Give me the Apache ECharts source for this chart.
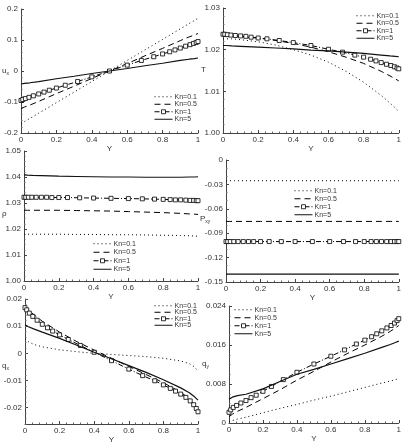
<!DOCTYPE html>
<html>
<head>
<meta charset="utf-8">
<script src="https://cdn.jsdelivr.net/npm/echarts@6/dist/echarts.min.js"></script>
<style>
html, body { margin: 0; padding: 0; background: #fff; }
#chart { width: 404px; height: 445px; }
</style>
</head>
<body>
<div id="chart"></div>
<script>
// grid points along Y
const X_LINE = [0, 0.02, 0.05, 0.1, 0.2, 0.3, 0.4, 0.5, 0.6, 0.7, 0.8, 0.9, 0.95, 0.98, 1];
const X_MARK = [0, 0.01, 0.025, 0.045, 0.07, 0.1, 0.13, 0.16, 0.2, 0.25, 0.32, 0.4, 0.5, 0.6, 0.68, 0.75, 0.8, 0.84, 0.87, 0.9, 0.93, 0.955, 0.975, 0.99, 1];
const NAMES = ['Kn=0.1', 'Kn=0.5', 'Kn=1', 'Kn=5'];

// u_x
const UX_01 = [-0.170, -0.163, -0.153, -0.136, -0.102, -0.068, -0.034, 0, 0.034, 0.068, 0.102, 0.136, 0.153, 0.163, 0.170];
const UX_05 = [-0.121, -0.116, -0.110, -0.098, -0.073, -0.049, -0.024, 0, 0.024, 0.049, 0.073, 0.098, 0.110, 0.116, 0.121];
const UX_1 = [-0.095, -0.092, -0.089, -0.085, -0.080, -0.074, -0.068, -0.062, -0.055, -0.046, -0.034, -0.019, 0, 0.019, 0.034, 0.046, 0.055, 0.062, 0.068, 0.074, 0.080, 0.085, 0.089, 0.092, 0.095];
const UX_5 = [-0.042, -0.040, -0.038, -0.034, -0.025, -0.017, -0.008, 0, 0.008, 0.017, 0.025, 0.034, 0.038, 0.040, 0.042];

// T
const T_01 = [1.0226, 1.0226, 1.0226, 1.0224, 1.0219, 1.0211, 1.0200, 1.0187, 1.0170, 1.0148, 1.0122, 1.0090, 1.0072, 1.0060, 1.0052];
const T_05 = [1.0232, 1.0232, 1.0232, 1.0231, 1.0228, 1.0222, 1.0215, 1.0206, 1.0195, 1.0182, 1.0167, 1.0148, 1.0137, 1.0130, 1.0125];
const T_1 = [1.0237, 1.0237, 1.0236, 1.0235, 1.0234, 1.0233, 1.0232, 1.0230, 1.0228, 1.0226, 1.0222, 1.0217, 1.0210, 1.0201, 1.0194, 1.0187, 1.0182, 1.0177, 1.0173, 1.0169, 1.0165, 1.0162, 1.0159, 1.0156, 1.0154];
const T_5 = [1.0210, 1.0210, 1.0209, 1.0208, 1.0206, 1.0204, 1.0202, 1.0199, 1.0197, 1.0194, 1.0191, 1.0187, 1.0185, 1.0184, 1.0183];

// rho
const R_01 = [1.0180, 1.0180, 1.0180, 1.0180, 1.0180, 1.0179, 1.0179, 1.0178, 1.0178, 1.0177, 1.0176, 1.0175, 1.0174, 1.0173, 1.0172];
const R_05 = [1.0272, 1.0272, 1.0272, 1.0272, 1.0272, 1.0271, 1.0270, 1.0269, 1.0267, 1.0265, 1.0263, 1.0260, 1.0258, 1.0257, 1.0256];
const R_1 = [1.0322, 1.0322, 1.0322, 1.0322, 1.0322, 1.0322, 1.0322, 1.0321, 1.0321, 1.0321, 1.0320, 1.0319, 1.0318, 1.0317, 1.0316, 1.0315, 1.0314, 1.0313, 1.0312, 1.0312, 1.0311, 1.0310, 1.0310, 1.0309, 1.0309];
const R_5 = [1.0408, 1.0407, 1.0406, 1.0405, 1.0403, 1.0402, 1.0401, 1.0400, 1.0400, 1.0399, 1.0399, 1.0399, 1.0400, 1.0400, 1.0401];

// P_xy
const P_01 = [-0.0255, -0.0255, -0.0255, -0.0255, -0.0255, -0.0255, -0.0255, -0.0255, -0.0255, -0.0255, -0.0255, -0.0255, -0.0255, -0.0255, -0.0255];
const P_05 = [-0.0755, -0.0755, -0.0755, -0.0755, -0.0755, -0.0755, -0.0755, -0.0755, -0.0755, -0.0755, -0.0755, -0.0755, -0.0755, -0.0755, -0.0755];
const P_1 = [-0.1003, -0.1003, -0.1003, -0.1003, -0.1003, -0.1003, -0.1003, -0.1003, -0.1003, -0.1003, -0.1003, -0.1003, -0.1003, -0.1003, -0.1003, -0.1003, -0.1003, -0.1003, -0.1003, -0.1003, -0.1003, -0.1003, -0.1003, -0.1003, -0.1003];
const P_5 = [-0.1402, -0.1402, -0.1402, -0.1402, -0.1402, -0.1402, -0.1402, -0.1402, -0.1402, -0.1402, -0.1402, -0.1402, -0.1402, -0.1402, -0.1402];

// q_x
const QX_01 = [0.0054, 0.0043, 0.0033, 0.0024, 0.0013, 0.0006, 0.0000, -0.0004, -0.0008, -0.0012, -0.0018, -0.0028, -0.0038, -0.0050, -0.0066];
const QX_05 = [0.0176, 0.0160, 0.0143, 0.0118, 0.0078, 0.0043, 0.0012, -0.0018, -0.0048, -0.0078, -0.0108, -0.0143, -0.0167, -0.0192, -0.0225];
const QX_1 = [0.0168, 0.0160, 0.0148, 0.0136, 0.0122, 0.0107, 0.0094, 0.0082, 0.0068, 0.0051, 0.0029, 0.0004, -0.0027, -0.0058, -0.0082, -0.0101, -0.0116, -0.0129, -0.0139, -0.0150, -0.0162, -0.0175, -0.0189, -0.0203, -0.0215];
const QX_5 = [0.0105, 0.0098, 0.0090, 0.0078, 0.0055, 0.0030, 0.0004, -0.0020, -0.0045, -0.0070, -0.0097, -0.0127, -0.0145, -0.0160, -0.0172];
const QX_TICKS = [-0.02, -0.01, 0, 0.01, 0.02];

// q_y
const QY_01 = [0.0003, 0.0005, 0.0008, 0.0012, 0.0021, 0.0030, 0.0038, 0.0047, 0.0055, 0.0064, 0.0073, 0.0082, 0.0086, 0.0089, 0.0091];
const QY_05 = [0.0013, 0.0018, 0.0024, 0.0032, 0.0050, 0.0068, 0.0088, 0.0106, 0.0125, 0.0143, 0.0160, 0.0178, 0.0188, 0.0195, 0.0200];
const QY_1 = [0.0022, 0.0027, 0.0032, 0.0036, 0.0041, 0.0046, 0.0052, 0.0057, 0.0065, 0.0075, 0.0089, 0.0104, 0.0121, 0.0137, 0.0150, 0.0162, 0.0170, 0.0177, 0.0183, 0.0189, 0.0195, 0.0200, 0.0205, 0.0210, 0.0214];
const QY_5 = [0.0049, 0.0053, 0.0056, 0.0059, 0.0070, 0.0085, 0.0100, 0.0110, 0.0121, 0.0132, 0.0143, 0.0155, 0.0161, 0.0165, 0.0168];

const FONT = 'Liberation Sans, Arial, sans-serif';
const TXT = '#333';

const panels = [
  { grid: { left: 21, top: 9, width: 177, height: 124 }, min: -0.2, max: 0.2, interval: 0.1, minor: 5, dec: 1,
    name: '{m|u}{s|x}', namePos: [2, 72], data: [UX_01, UX_05, UX_1, UX_5], legend: { left: 154, top: 93, gap: 0 } },
  { grid: { left: 223, top: 8, width: 177, height: 125 }, min: 1.0, max: 1.03, interval: 0.01, minor: 5, dec: 2,
    name: '{m|T}', namePos: [201, 71], data: [T_01, T_05, T_1, T_5], legend: { left: 356, top: 12, gap: 0 } },
  { grid: { left: 24, top: 151, width: 174, height: 130 }, min: 1.0, max: 1.05, interval: 0.01, minor: 5, dec: 2,
    name: '{m|ρ}', namePos: [2, 215], data: [R_01, R_05, R_1, R_5], legend: { left: 93, top: 240, gap: 1 } },
  { grid: { left: 226, top: 160, width: 174, height: 122 }, min: -0.15, max: 0, interval: 0.03, minor: 3, dec: 2,
    name: '{m|P}{s|xy}', namePos: [200, 220], data: [P_01, P_05, P_1, P_5], legend: { left: 294, top: 187, gap: 0.5 } },
  { grid: { left: 25, top: 299, width: 173, height: 128 }, min: -0.026, max: 0.02, custom: QX_TICKS, dec: 2,
    name: '{m|q}{s|x}', namePos: [2, 367], data: [QX_01, QX_05, QX_1, QX_5], legend: { left: 154, top: 302, gap: -1 } },
  { grid: { left: 229, top: 306, width: 171, height: 117 }, min: 0, max: 0.024, interval: 0.008, minor: 4, dec: 3,
    name: '{m|q}{s|y}', namePos: [202, 365], data: [QY_01, QY_05, QY_1, QY_5], legend: { left: 234, top: 306, gap: 0.5 } }
];

const lineStyles = [
  { type: [1, 3], width: 1, color: '#000' },
  { type: [6, 4], width: 1, color: '#000' },
  { type: [5, 2, 1, 2], width: 1, color: '#000' },
  { type: 'solid', width: 1.2, color: '#111' }
];

function fmt(dec) {
  return function (v) {
    if (Math.abs(v) < 1e-9) return '0';
    return v.toFixed(dec);
  };
}

// legend entries: only Kn=1 keeps its square marker
const legendItems = NAMES.map(function (n, k) {
  return k === 2
    ? { name: n, itemStyle: { color: '#fff', borderColor: '#000', borderWidth: 0.8 } }
    : { name: n, itemStyle: { opacity: 0, borderWidth: 0 } };
});

const grids = [], xAxes = [], yAxes = [], series = [], legends = [], texts = [];

panels.forEach(function (p, i) {
  grids.push(p.grid);
  xAxes.push({
    type: 'value', gridIndex: i, min: 0, max: 1, interval: 0.2,
    name: 'Y', nameLocation: 'middle', nameGap: 12, nameMoveOverlap: false,
    nameTextStyle: { fontSize: 8, color: TXT, fontFamily: FONT },
    axisLine: { onZero: false, lineStyle: { color: '#444', width: 1 } },
    axisTick: { inside: true, length: 3, lineStyle: { color: '#444' } },
    minorTick: { show: true, splitNumber: 5, length: 1.5, lineStyle: { color: '#666' } },
    axisLabel: { fontSize: 8, color: TXT, margin: 3, fontFamily: FONT,
      formatter: function (v) { return v === 0 ? '0' : v === 1 ? '1' : v.toFixed(1); } },
    splitLine: { show: false }
  });
  const y = {
    type: 'value', gridIndex: i, min: p.min, max: p.max,
    axisLine: { show: true, onZero: false, lineStyle: { color: '#444', width: 1 } },
    axisTick: { inside: true, length: 3, lineStyle: { color: '#444' } },
    axisLabel: { fontSize: 8, color: TXT, margin: 3, fontFamily: FONT, formatter: fmt(p.dec),
      showMinLabel: true, showMaxLabel: true },
    splitLine: { show: false }
  };
  if (p.custom) {
    y.axisLabel.customValues = p.custom;
    y.axisTick.customValues = p.custom;
  } else {
    y.interval = p.interval;
    y.minorTick = { show: true, splitNumber: p.minor, length: 1.5, lineStyle: { color: '#666' } };
  }
  yAxes.push(y);

  texts.push({
    type: 'text', left: p.namePos[0], top: p.namePos[1] - 5, silent: true,
    style: { text: p.name, fill: TXT, font: '8px ' + FONT,
      rich: { m: { fontSize: 8, fill: TXT, fontFamily: FONT }, s: { fontSize: 5, fill: TXT, fontFamily: FONT, padding: [5, 0, 0, 0] } } }
  });

  p.data.forEach(function (arr, k) {
    const xs = k === 2 ? X_MARK : X_LINE;
    series.push({
      type: 'line', name: NAMES[k], xAxisIndex: i, yAxisIndex: i,
      data: xs.map(function (x, j) { return [x, arr[j]]; }),
      symbol: k === 2 ? 'rect' : 'none', symbolSize: 4, showSymbol: k === 2,
      itemStyle: { color: '#fff', borderColor: '#000', borderWidth: 0.8 },
      lineStyle: lineStyles[k], smooth: false, animation: false, z: 2 + k
    });
  });

  legends.push({
    data: legendItems, orient: 'vertical', left: p.legend.left, top: p.legend.top,
    itemWidth: 18, itemHeight: 5, itemGap: p.legend.gap, padding: 0,
    selectedMode: false,
    lineStyle: { width: 1 },
    textStyle: { fontSize: 7, lineHeight: 7.5, color: TXT, fontFamily: FONT, padding: [0, 0, 0, -3] }
  });
});

// minor ticks for q_x panel (its axis starts off the major tick grid)
const QX_MINOR = [];
for (let v = -0.026; v <= 0.0201; v += 0.002) QX_MINOR.push(Math.round(v * 1000) / 1000);
yAxes.push({
  type: 'value', gridIndex: 4, min: -0.026, max: 0.02, position: 'left',
  axisLine: { show: false, onZero: false }, axisLabel: { show: false }, splitLine: { show: false },
  axisTick: { show: true, inside: true, length: 1.5, customValues: QX_MINOR, lineStyle: { color: '#666' } }
});

const chart = echarts.init(document.getElementById('chart'));
chart.setOption({
  backgroundColor: '#fff',
  animation: false,
  textStyle: { fontFamily: FONT },
  grid: grids,
  xAxis: xAxes,
  yAxis: yAxes,
  legend: legends,
  graphic: texts,
  series: series
});
</script>
</body>
</html>
